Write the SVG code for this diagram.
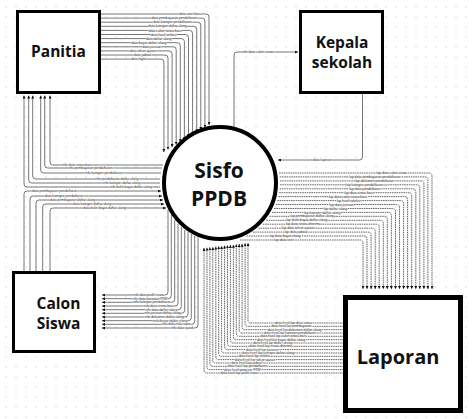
<svg xmlns="http://www.w3.org/2000/svg" width="473" height="419" viewBox="0 0 473 419">
<style>
.box{fill:#fff;stroke:#000;stroke-width:3}
.big{fill:#fff;stroke:#000;stroke-width:5}
.t{font-family:"Open Sans","Noto Sans",sans-serif;font-weight:bold;fill:#111;text-anchor:middle}
.c{fill:none;stroke:#4a4a4a;stroke-width:0.75;marker-end:url(#ah)}
.d{fill:none;stroke:#3a3a3a;stroke-width:0.75;stroke-dasharray:1.6 0.7;marker-end:url(#ah)}
.l{font-family:"Liberation Sans",Arial,sans-serif;font-size:3.4px;fill:#222;paint-order:stroke;stroke:#fff;stroke-width:0.8}
.e{text-anchor:end}
</style>
<defs>
<pattern id="grid" width="10" height="10" patternUnits="userSpaceOnUse"><circle cx="6" cy="7" r="0.7" fill="#d4d4d4"/></pattern>
<marker id="ah" markerUnits="userSpaceOnUse" markerWidth="3" markerHeight="3" refX="3" refY="1.5" orient="auto"><path d="M0,0 L3,1.5 L0,3 z" fill="#111"/></marker>
</defs>
<rect width="473" height="419" fill="#fff"/>
<rect width="473" height="419" fill="url(#grid)"/>
<g id="connectors">
<!-- Panitia to Sisfo -->
<path class="c" d="M101,14 H206 Q209,14 209,17 V125"/>
<path class="c" d="M101,18.1 H201.9 Q204.9,18.1 204.9,21.1 V127.5"/>
<path class="c" d="M101,22.2 H197.8 Q200.8,22.2 200.8,25.2 V129.9"/>
<path class="c" d="M101,26.3 H193.7 Q196.7,26.3 196.7,29.3 V132.4"/>
<path class="c" d="M101,30.4 H189.6 Q192.6,30.4 192.6,33.4 V134.8"/>
<path class="c" d="M101,34.5 H185.5 Q188.5,34.5 188.5,37.5 V137.3"/>
<path class="c" d="M101,38.6 H181.4 Q184.4,38.6 184.4,41.6 V139.7"/>
<path class="c" d="M101,42.7 H177.3 Q180.3,42.7 180.3,45.7 V142.2"/>
<path class="c" d="M101,46.8 H173.2 Q176.2,46.8 176.2,49.8 V144.6"/>
<path class="c" d="M101,50.9 H169.1 Q172.1,50.9 172.1,53.9 V147.1"/>
<path class="c" d="M101,55 H165 Q168,55 168,58 V149.5"/>
<path class="c" d="M101,59.1 H160.9 Q163.9,59.1 163.9,62.1 V152"/>
<text class="l e" x="201" y="15.1">data user baru</text>
<text class="l e" x="196.9" y="19.2">data pembayaran pendaftaran</text>
<text class="l e" x="191.8" y="23.3">data kategori pendaftaran</text>
<text class="l e" x="186.7" y="27.4">data kategori daftar ulang</text>
<text class="l e" x="181.6" y="31.5">data calon siswa baru</text>
<text class="l e" x="176.5" y="35.6">data hasil seleksi</text>
<text class="l e" x="171.4" y="39.7">data daftar ulang</text>
<text class="l e" x="166.3" y="43.8">data bayar daftar ulang</text>
<text class="l e" x="161.2" y="47.9">data jurusan</text>
<text class="l e" x="156.1" y="52">data tahun ajaran</text>
<text class="l e" x="151" y="56.1">data jadwal</text>
<text class="l e" x="145.9" y="60.2">data login</text>
<!-- Sisfo to Panitia -->
<path class="c" d="M163,165 H53 Q50,165 50,162 V95.5"/>
<path class="c" d="M162,168 H47.7 Q44.7,168 44.7,165 V95.5"/>
<path class="c" d="M161,173 H43.7 Q40.7,173 40.7,170 V95.5"/>
<path class="c" d="M160,179 H35.7 Q32.7,179 32.7,176 V95.5"/>
<path class="c" d="M160,183 H31.7 Q28.7,183 28.7,180 V95.5"/>
<path class="c" d="M160,187 H27 Q24,187 24,184 V95.5"/>
<text class="l" x="62" y="166.1">info data siswa baru</text>
<text class="l" x="68" y="169.1">info pembayaran pendaftaran cs</text>
<text class="l" x="85" y="174.1">info kategori pendaftaran cs</text>
<text class="l" x="95" y="180.1">info pendaftaran daftar ulang</text>
<text class="l" x="103" y="184.1">info kategori daftar ulang</text>
<text class="l" x="110" y="188.1">info bukti bayar daftar ulang</text>
<!-- Calon Siswa to Sisfo -->
<path class="c" d="M24,271 V194 Q24,191 27,191 H161"/>
<path class="c" d="M30,271 V199 Q30,196 33,196 H162"/>
<path class="c" d="M36,271 V203 Q36,200 39,200 H163"/>
<path class="c" d="M42.7,271 V207 Q42.7,204 45.7,204 H164"/>
<path class="c" d="M50,271 V211 Q50,208 53,208 H166"/>
<text class="l" x="32" y="192.1">data pembayaran pendaftaran cs</text>
<text class="l" x="45" y="197.1">data kategori pendaftaran cs</text>
<text class="l" x="50" y="201.1">data pembayaran daftar ulang</text>
<text class="l" x="73" y="205.1">data kategori daftar ulang</text>
<text class="l" x="83" y="209.1">data bukti bayar daftar ulang</text>
<!-- Sisfo to Calon Siswa -->
<path class="c" d="M168,210 V292 Q168,295 165,295 H102"/>
<path class="c" d="M171.3,215 V295.7 Q171.3,298.7 168.3,298.7 H102"/>
<path class="c" d="M174.7,220 V299.3 Q174.7,302.3 171.7,302.3 H102"/>
<path class="c" d="M178,224 V303 Q178,306 175,306 H102"/>
<path class="c" d="M181.3,227 V306.7 Q181.3,309.7 178.3,309.7 H102"/>
<path class="c" d="M184.7,230 V310.3 Q184.7,313.3 181.7,313.3 H102"/>
<path class="c" d="M188,232 V314 Q188,317 185,317 H102"/>
<path class="c" d="M191.3,234 V317.7 Q191.3,320.7 188.3,320.7 H102"/>
<path class="c" d="M194.7,236 V321.3 Q194.7,324.3 191.7,324.3 H102"/>
<path class="c" d="M198,237.5 V325 Q198,328 195,328 H102"/>
<text class="l e" x="164" y="296.1">info data profil siswa</text>
<text class="l e" x="167.3" y="299.8">info data pegawai TTW</text>
<text class="l e" x="170.7" y="303.4">info kategori pendaftaran</text>
<text class="l e" x="174" y="307.1">info data siswa baru</text>
<text class="l e" x="177.3" y="310.8">info data daftar ulang</text>
<text class="l e" x="180.7" y="314.4">info jurusan daftar ulang</text>
<text class="l e" x="184" y="318.1">info dokumen daftar ulang</text>
<text class="l e" x="187.3" y="321.8">info bayar daftar ulang</text>
<text class="l e" x="190.7" y="325.4">info data nilai rapor</text>
<text class="l e" x="194" y="329.1">info data ijazah</text>
<!-- Kepala sekolah -->
<path class="c" d="M234,127 V55 Q234,52 237,52 H298"/>
<text class="l" x="242" y="53.1">info data calon siswa</text>
<path class="c" d="M362.5,94 V157 Q362.5,160 359.5,160 H278"/>
<text class="l" x="313" y="161.1">data laporan</text>
<!-- Sisfo to Laporan -->
<path class="d" d="M279,173 H429 Q432,173 432,176 V289"/>
<path class="d" d="M279.7,176.9 H424.9 Q427.9,176.9 427.9,179.9 V289"/>
<path class="d" d="M280,180.9 H420.9 Q423.9,180.9 423.9,183.9 V289"/>
<path class="d" d="M280,184.8 H416.8 Q419.8,184.8 419.8,187.8 V289"/>
<path class="d" d="M279.7,188.8 H412.8 Q415.8,188.8 415.8,191.8 V289"/>
<path class="d" d="M279.2,192.7 H408.7 Q411.7,192.7 411.7,195.7 V289"/>
<path class="d" d="M278.4,196.6 H404.6 Q407.6,196.6 407.6,199.6 V289"/>
<path class="d" d="M277.3,200.6 H400.6 Q403.6,200.6 403.6,203.6 V289"/>
<path class="d" d="M275.9,204.5 H396.5 Q399.5,204.5 399.5,207.5 V289"/>
<path class="d" d="M274.1,208.5 H392.5 Q395.5,208.5 395.5,211.5 V289"/>
<path class="d" d="M272,212.4 H388.4 Q391.4,212.4 391.4,215.4 V289"/>
<path class="d" d="M269.5,216.3 H384.3 Q387.3,216.3 387.3,219.3 V289"/>
<path class="d" d="M266.4,220.3 H380.3 Q383.3,220.3 383.3,223.3 V289"/>
<path class="d" d="M262.8,224.2 H376.2 Q379.2,224.2 379.2,227.2 V289"/>
<path class="d" d="M258.3,228.2 H372.2 Q375.2,228.2 375.2,231.2 V289"/>
<path class="d" d="M252.9,232.1 H368.1 Q371.1,232.1 371.1,235.1 V289"/>
<path class="d" d="M246.6,236 H364 Q367,236 367,239 V289"/>
<path class="d" d="M240,240 H360 Q363,240 363,243 V289"/>
<text class="l e" x="407" y="174.1">lap data calon siswa</text>
<text class="l e" x="400.3" y="178">lap data pembayaran pendaftaran</text>
<text class="l e" x="393.7" y="182">lap dokumen pendaftaran</text>
<text class="l e" x="387" y="185.9">lap kategori pendaftaran cs</text>
<text class="l e" x="380.4" y="189.9">lap data pendaftaran</text>
<text class="l e" x="373.7" y="193.8">lap data siswa baru</text>
<text class="l e" x="367" y="197.7">lap data calon siswa baru</text>
<text class="l e" x="360.4" y="201.7">lap hasil seleksi</text>
<text class="l e" x="353.7" y="205.6">lap data jurusan</text>
<text class="l e" x="347.1" y="209.6">lap daftar ulang</text>
<text class="l e" x="340.4" y="213.5">lap kategori daftar ulang</text>
<text class="l e" x="333.7" y="217.4">lap pembayaran daftar ulang</text>
<text class="l e" x="327.1" y="221.4">lap bukti bayar daftar ulang</text>
<text class="l e" x="320.4" y="225.3">lap data siswa diterima</text>
<text class="l e" x="313.8" y="229.3">lap data tahun ajaran</text>
<text class="l e" x="307.1" y="233.2">lap data jadwal</text>
<text class="l e" x="300.4" y="237.1">lap data bayar ulang</text>
<text class="l e" x="293.8" y="241.1">lap data user</text>
<!-- Laporan to Sisfo -->
<path class="d" d="M344,323 H251 Q248,323 248,320 V243"/>
<path class="d" d="M344,326.3 H248.1 Q245.1,326.3 245.1,323.3 V243.3"/>
<path class="d" d="M344,329.7 H245.1 Q242.1,329.7 242.1,326.7 V243.7"/>
<path class="d" d="M344,333 H242.2 Q239.2,333 239.2,330 V244"/>
<path class="d" d="M344,336.3 H239.3 Q236.3,336.3 236.3,333.3 V244.3"/>
<path class="d" d="M344,339.7 H236.4 Q233.4,339.7 233.4,336.7 V244.7"/>
<path class="d" d="M344,343 H233.4 Q230.4,343 230.4,340 V245"/>
<path class="d" d="M344,346.3 H230.5 Q227.5,346.3 227.5,343.3 V245.3"/>
<path class="d" d="M344,349.6 H227.6 Q224.6,349.6 224.6,346.6 V245.6"/>
<path class="d" d="M344,353 H224.6 Q221.6,353 221.6,350 V246"/>
<path class="d" d="M344,356.3 H221.7 Q218.7,356.3 218.7,353.3 V246.3"/>
<path class="d" d="M344,359.6 H218.8 Q215.8,359.6 215.8,356.6 V246.6"/>
<path class="d" d="M344,363 H215.8 Q212.8,363 212.8,360 V247"/>
<path class="d" d="M344,366.3 H212.9 Q209.9,366.3 209.9,363.3 V247.3"/>
<path class="d" d="M344,369.6 H210 Q207,369.6 207,366.6 V247.6"/>
<path class="d" d="M344,373 H207 Q204,373 204,370 V248"/>
<text class="l" x="275" y="324.1">data hasil lap data siswa</text>
<text class="l" x="271.4" y="327.4">data hasil lap pembayaran</text>
<text class="l" x="267.7" y="330.8">data hasil lap dokumen daftar ulang</text>
<text class="l" x="264.1" y="334.1">data hasil lap kategori pendaftaran</text>
<text class="l" x="260.5" y="337.4">data hasil lap calon siswa baru</text>
<text class="l" x="256.9" y="340.8">data hasil lap bayar daftar ulang</text>
<text class="l" x="253.2" y="344.1">data hasil lap daftar ulang</text>
<text class="l" x="249.6" y="347.4">data hasil lap siswa diterima</text>
<text class="l" x="246" y="350.7">data hasil lap jurusan</text>
<text class="l" x="242.3" y="354.1">data hasil lap kategori daftar ulang</text>
<text class="l" x="238.7" y="357.4">data hasil lap seleksi</text>
<text class="l" x="235.1" y="360.7">data hasil lap tahun ajaran</text>
<text class="l" x="231.4" y="364.1">data hasil lap jadwal</text>
<text class="l" x="227.8" y="367.4">data hasil lap pendaftaran</text>
<text class="l" x="224.2" y="370.7">data hasil pegawai TTW</text>
<text class="l" x="220.5" y="374.1">data hasil lap profil siswa</text>
</g>
<g id="node-panitia">
<rect class="box" x="17.5" y="11.5" width="82" height="81"/>
<text class="t" x="58.5" y="57" font-size="15.5">Panitia</text>
</g>
<g id="node-kepala">
<rect class="box" x="300.5" y="11.5" width="82" height="81"/>
<text class="t" x="342" y="48" font-size="15.5">Kepala</text>
<text class="t" x="342" y="68" font-size="15.5">sekolah</text>
</g>
<g id="node-calon">
<rect class="box" x="13.5" y="272.5" width="81" height="79"/>
<text class="t" x="58.5" y="309" font-size="15.5">Calon</text>
<text class="t" x="58.5" y="329" font-size="15.5">Siswa</text>
</g>
<g id="node-laporan">
<rect class="big" x="345.5" y="297.5" width="115" height="113"/>
<text class="t" x="398" y="364" font-size="20">Laporan</text>
</g>
<g id="node-sisfo">
<circle cx="220" cy="183" r="56" fill="#fff" stroke="#000" stroke-width="4"/>
<text class="t" x="219" y="178" font-size="21">Sisfo</text>
<text class="t" x="219" y="206" font-size="21">PPDB</text>
</g>
</svg>
